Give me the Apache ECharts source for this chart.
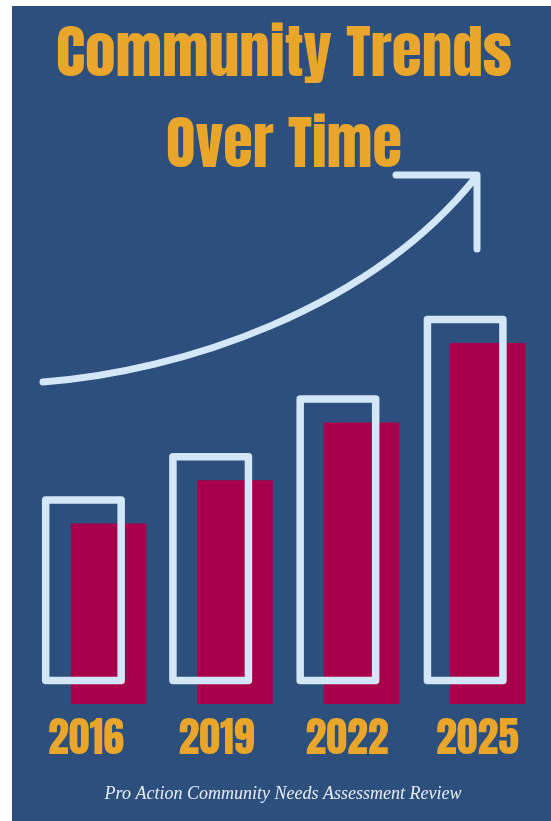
<!DOCTYPE html>
<html>
<head>
<meta charset="utf-8">
<script src="https://cdn.jsdelivr.net/npm/echarts@6/dist/echarts.min.js"></script>
<style>
  html, body { margin: 0; padding: 0; background: #ffffff; }
  #chart { width: 551px; height: 821px; }
</style>
</head>
<body>
<div id="chart"></div>
<script>
// Categories and values
const years = ['2016', '2019', '2022', '2025'];
const trendIndex = [50, 62, 78, 100];
const titleLines = ['Community Trends', 'Over Time'];
const footerText = 'Pro Action Community Needs Assessment Review';

// Palette and type
const NAVY = '#2c4f7d';
const CRIMSON = '#a8004b';
const ICE = '#d4e7f8';
const GOLD = '#e9a62a';
const POSTER_FONT = "Anton, 'Open Sans Condensed', 'Roboto Condensed', sans-serif";

const chart = echarts.init(document.getElementById('chart'), null, { renderer: 'canvas' });

// Horizontal squeeze for the heading so each line spans its target width
const measureCtx = document.createElement('canvas').getContext('2d');
function fitScale(text, font, targetWidth) {
  measureCtx.font = font;
  return targetWidth / measureCtx.measureText(text).width;
}
const TITLE_FONT = '58px ' + POSTER_FONT;
function headingLine(text, cx, cy, targetWidth) {
  return {
    type: 'text', x: cx, y: cy,
    scaleX: fitScale(text, TITLE_FONT, targetWidth), scaleY: 1,
    style: {
      text: text, align: 'center', verticalAlign: 'middle',
      font: TITLE_FONT, fill: GOLD
    }
  };
}

// Both bar grids share one scale; the outline grid sits up and to the left
const BAR_H = 361;
const CAT_W = 509;
const BAR_W = 75.5;

const option = {
  animation: false,
  backgroundColor: '#ffffff',
  graphic: [
    { type: 'rect', z: -10, shape: { x: 12, y: 6, width: 539, height: 815 }, style: { fill: NAVY } },
    headingLine(titleLines[0], 284, 60, 456),
    headingLine(titleLines[1], 284, 150.5, 236),
    // rising trend arrow
    {
      type: 'bezierCurve',
      shape: { x1: 43, y1: 382, cpx1: 180, cpy1: 372, cpx2: 370, cpy2: 310, x2: 476, y2: 177 },
      style: { stroke: ICE, lineWidth: 7, lineCap: 'round', fill: null }
    },
    {
      type: 'polyline',
      shape: { points: [[396, 175], [477, 175], [477, 249]] },
      style: { stroke: ICE, lineWidth: 7, lineCap: 'round', lineJoin: 'round', fill: null }
    },
    {
      type: 'text', x: 283, y: 794,
      style: {
        text: footerText, align: 'center', verticalAlign: 'middle',
        font: 'italic 18px "Liberation Serif", "DejaVu Serif", serif', fill: '#e8edf5'
      }
    }
  ],
  grid: [
    { left: 45.4, width: CAT_W, top: 343, height: BAR_H },    // filled bars
    { left: 19.8, width: CAT_W, top: 319.5, height: BAR_H },  // outline bars
    { left: 20.75, width: 522, top: 700, height: 16 }         // year labels
  ],
  xAxis: [
    { gridIndex: 0, type: 'category', data: years, show: false },
    { gridIndex: 1, type: 'category', data: years, show: false },
    {
      gridIndex: 2, type: 'category', data: years,
      axisLine: { show: false }, axisTick: { show: false }, splitLine: { show: false },
      axisLabel: {
        interval: 0, margin: 5.5, color: GOLD, fontSize: 42, fontFamily: POSTER_FONT
      }
    }
  ],
  yAxis: [
    { gridIndex: 0, type: 'value', min: 0, max: 100, show: false },
    { gridIndex: 1, type: 'value', min: 0, max: 100, show: false },
    { gridIndex: 2, type: 'value', min: 0, max: 1, show: false }
  ],
  series: [
    {
      type: 'bar', xAxisIndex: 0, yAxisIndex: 0, data: trendIndex, barWidth: BAR_W, z: 2,
      itemStyle: { color: CRIMSON }
    },
    {
      // hollow frames drawn from the same values on the offset grid
      type: 'custom', xAxisIndex: 1, yAxisIndex: 1, z: 3,
      data: trendIndex.map((v, i) => [i, v]),
      encode: { x: 0, y: 1 },
      renderItem: function (params, api) {
        const top = api.coord([api.value(0), api.value(1)]);
        const base = api.coord([api.value(0), 0]);
        return {
          type: 'rect',
          shape: { x: top[0] - BAR_W / 2, y: top[1], width: BAR_W, height: base[1] - top[1] },
          style: { fill: null, stroke: ICE, lineWidth: 7.5, lineJoin: 'round' }
        };
      }
    }
  ]
};

chart.setOption(option);
</script>
</body>
</html>
